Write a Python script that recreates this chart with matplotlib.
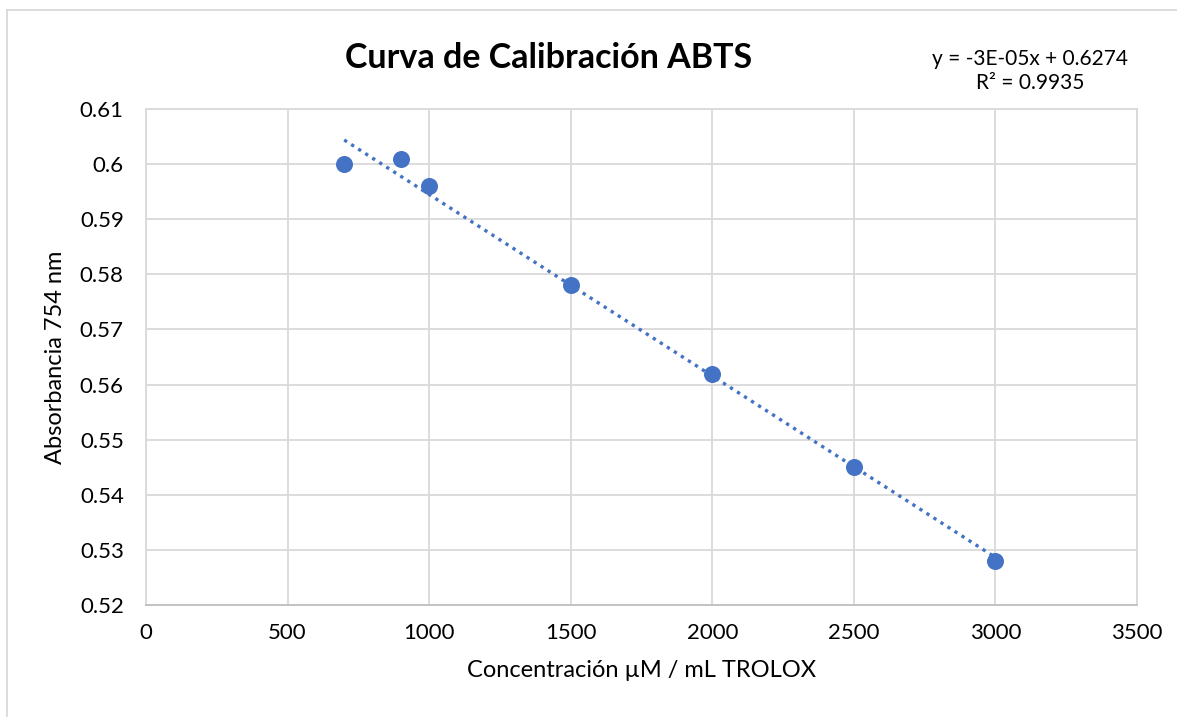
import numpy as np
import matplotlib
matplotlib.use("Agg")
import matplotlib.pyplot as plt
from matplotlib.lines import Line2D

plt.rcParams['font.family'] = ['Lato', 'DejaVu Sans']

conc = [700, 900, 1000, 1500, 2000, 2500, 3000]
absorb = [0.600, 0.601, 0.596, 0.578, 0.562, 0.545, 0.528]
x_ticks = [0, 500, 1000, 1500, 2000, 2500, 3000, 3500]
y_ticks = [0.52, 0.53, 0.54, 0.55, 0.56, 0.57, 0.58, 0.59, 0.60, 0.61]
y_tick_labels = ['0.52', '0.53', '0.54', '0.55', '0.56', '0.57', '0.58', '0.59', '0.6', '0.61']
title = "Curva de Calibración ABTS"
xlabel = "Concentración µM / mL TROLOX"
ylabel = "Absorbancia 754 nm"
eq_text = "y = -3E-05x + 0.6274\nR² = 0.9935"

color = '#4472C4'
W, H = 1177, 717
fig = plt.figure(figsize=(W/100, H/100), dpi=100)
ax = fig.add_axes([146/W, 1-605/H, (1137-146)/W, (605-109)/H])

# trendline
slope, intercept = np.polyfit(conc, absorb, 1)
xt = np.array([min(conc), max(conc)])
ax.plot(xt, slope*xt + intercept, linestyle=(0, (1, 1.5)), color=color, lw=2.4, zorder=2)
ax.scatter(conc, absorb, s=150, color=color, zorder=3, linewidths=0)

ax.set_xlim(0, 3500)
ax.set_ylim(0.52, 0.61)
ax.set_xticks(x_ticks)
ax.set_xticklabels([str(v) for v in x_ticks])
ax.set_yticks(y_ticks)
ax.set_yticklabels(y_tick_labels)
ax.grid(True, color='#D9D9D9', lw=1.3)
ax.set_axisbelow(True)
for s in ax.spines.values():
    s.set_color('#D9D9D9')
    s.set_linewidth(1.3)
ax.spines['bottom'].set_color('#BFBFBF')
ax.tick_params(length=0, labelsize=16, colors='black')
ax.tick_params(axis='y', pad=16)
ax.tick_params(axis='x', pad=13)
ax.set_xlabel(xlabel, fontsize=17, labelpad=12)
ax.set_ylabel(ylabel, fontsize=17, labelpad=10)

fig.text(549/W, 1-58/H, title, fontsize=24.5, fontweight='bold', ha='center', va='center')
fig.text(1030/W, 1-71/H, eq_text, fontsize=15, ha='center', va='center', linespacing=1.25)

# chart border
fig.add_artist(Line2D([7/W, 7/W], [0, 1-10/H], color='#D9D9D9', lw=1.3))
fig.add_artist(Line2D([7/W, 1], [1-10/H, 1-10/H], color='#D9D9D9', lw=1.3))

fig.savefig('out.png', dpi=100)
